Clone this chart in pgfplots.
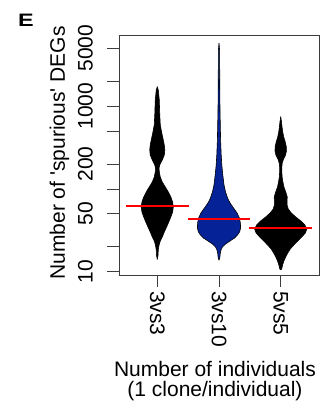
\documentclass[border=0pt]{standalone}
\usepackage{fontspec}
\setmainfont{Liberation Sans}
\usepackage{pgfplots}
\usepackage{pgfplotstable}
\pgfplotsset{compat=1.18}
\usepgfplotslibrary{fillbetween}
\definecolor{vblue}{RGB}{5,35,150}
\definecolor{axgray}{RGB}{60,60,60}

% violin profiles: y = value, w = half width (px at 61.5 px per category unit)
\pgfplotstableread{
y w
1718 0
1568 1
1187 2
782 2.5
592 3
474 4.5
390 6
339 7
295 7.5
257 7
224 5
195 2.5
179 1.8
160 2
139 3
121 5
105.5 8
91.8 11
79.9 13.5
69.5 15.3
60.5 16
52.6 15.3
45.8 13.5
39.9 11.5
34.7 9.3
30.2 7
26.3 5
23.5 3
21.0 1.8
18.3 1
15.9 0.8
14.1 0
}\vA

\pgfplotstableread{
y w
5747 0
4771 0.6
2735 0.7
1568 0.8
898.7 1.0
592 1.3
390 1.6
257 2.2
195 2.8
147.4 3.8
111.5 5
91.8 6.5
77.7 8.5
67.6 11
58.8 14.5
51.2 18
44.6 20.3
38.8 21.3
33.7 21.5
30.2 20.5
27.8 18.5
25.5 15.5
23.5 11
21.6 6.5
19.9 3.5
18.3 2
16.4 1.2
14.6 0.8
13.8 0
}\vB

\pgfplotstableread{
y w
746 0
643.6 0.8
560 1.3
487.3 2
424 3
369 4.5
321 5.6
287.3 5.7
257 4.8
229.9 2.8
205.7 1.5
184.1 1.1
160 1.1
139 1.4
121 2.2
105.5 3.2
91.8 5
79.9 6.5
71.5 6.3
63.9 6.3
57.2 7.5
51.2 10.5
45.8 15
41.0 20
36.7 24
32.8 26
29.3 24.5
26.3 21
23.5 17
21.0 13
18.8 9.5
16.8 7
15.1 5
13.5 3.2
12.0 1.8
10.8 1
10.5 0
}\vC

\begin{document}
\begin{tikzpicture}[font=\fontsize{21bp}{19.5bp}\selectfont]
\begin{axis}[
  at={(0,0)}, anchor=south west,
  scale only axis, width=200bp, height=240bp,
  xmin=0.38, xmax=3.62,
  ymode=log, ymin=9.12, ymax=7240,
  xtick={1,2,3}, xticklabels={3vs3,3vs10,5vs5},
  ytick={10,20,50,100,200,500,1000,2000,5000},
  yticklabels={10,{},50,{},200,{},1000,{},5000},
  yminorticks=false, xminorticks=false,
  tick pos=left, tick align=outside, major tick length=12bp,
  axis line style={line width=0.8bp, axgray},
  tick style={line width=0.8bp, axgray},
  every tick label/.append style={font=\fontsize{21bp}{19.5bp}\selectfont},
  yticklabel style={rotate=90, anchor=south, inner sep=0pt},
  xticklabel style={rotate=-90, anchor=west, inner sep=0pt},
  yticklabel shift=14bp,
  xticklabel shift=4bp,
]
% 3vs3
\addplot[name path=a1, black, line width=0.6bp] table[x expr={1+\thisrow{w}/61.5}, y=y]{\vA};
\addplot[name path=a2, black, line width=0.6bp] table[x expr={1-\thisrow{w}/61.5}, y=y]{\vA};
\addplot[black] fill between[of=a1 and a2];
% 3vs10
\addplot[name path=b1, black, line width=0.6bp] table[x expr={2+\thisrow{w}/61.5}, y=y]{\vB};
\addplot[name path=b2, black, line width=0.6bp] table[x expr={2-\thisrow{w}/61.5}, y=y]{\vB};
\addplot[vblue] fill between[of=b1 and b2];
% 5vs5
\addplot[name path=c1, black, line width=0.6bp] table[x expr={3+\thisrow{w}/61.5}, y=y]{\vC};
\addplot[name path=c2, black, line width=0.6bp] table[x expr={3-\thisrow{w}/61.5}, y=y]{\vC};
\addplot[black] fill between[of=c1 and c2];
% medians
\addplot[red, line width=2.2bp] coordinates {(0.49,61.6) (1.51,61.6)};
\addplot[red, line width=2.2bp] coordinates {(1.49,43.4) (2.51,43.4)};
\addplot[red, line width=2.2bp] coordinates {(2.49,33.4) (3.51,33.4)};
\end{axis}
\node[rotate=90, anchor=base, inner sep=0pt] at (-54bp,122bp) {Number of \textquotesingle spurious\textquotesingle{} DEGs};
\node[anchor=base, align=center, inner sep=0pt] at (96bp,-121bp) {Number of individuals\\(1 clone/individual)};
\node[anchor=base west, inner sep=0pt] at (-101bp,248bp) {\fontsize{18bp}{18bp}\selectfont\bfseries\scalebox{1.3}[1]{E}};
\pgfresetboundingbox
\useasboundingbox (-119bp,-131bp) rectangle (212bp,275bp);
\end{tikzpicture}
\end{document}
